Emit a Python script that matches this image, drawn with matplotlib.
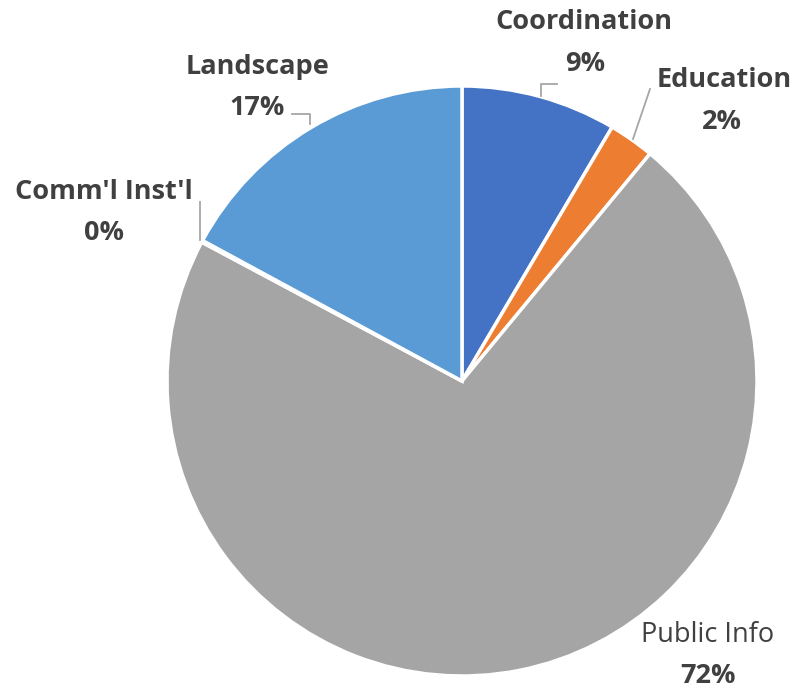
import numpy as np
import matplotlib.pyplot as plt

labels = ["Coordination", "Education", "Public Info", "Comm'l Inst'l", "Landscape"]
values = [8.5, 2.5, 71.8, 0.1, 17.1]
pct_text = ["9%", "2%", "72%", "0%", "17%"]
colors = ["#4472C4", "#ED7D31", "#A5A5A5", "#FFC000", "#5B9BD5"]

W, H = 798, 692
cx, cy, R = 462, 381, 295  # pie centre / radius in pixels


def px(x, y):
    # pixel (from top-left) -> data coords where pie radius is 1
    return (x - cx) / R, (cy - y) / R


fig = plt.figure(figsize=(W / 100, H / 100), dpi=100)
ax = fig.add_axes([0, 0, 1, 1])
ax.pie(values, colors=colors, startangle=90, counterclock=False,
       wedgeprops=dict(edgecolor="white", linewidth=2.5))
ax.set_xlim(-cx / R, (W - cx) / R)
ax.set_ylim(-(H - cy) / R, cy / R)
ax.set_aspect("auto")
ax.axis("off")

# label positions (pixel centres of name / percent), leader lines
name_pos = [(584, 22), (724, 80), (708, 635), (104, 192), (257, 67)]
pct_pos = [(585, 64), (722, 122), (708, 676), (104, 233), (257, 108)]
leaders = [
    [(541, 96), (541, 84), (557, 84)],
    [(633, 139), (650, 89)],
    None,
    [(200, 240), (200, 202)],
    [(292, 114), (310, 114), (310, 124)],
]

tc = "#404040"
fam = ["Open Sans", "DejaVu Sans"]
for i, lab in enumerate(labels):
    w = "normal" if lab == "Public Info" else "bold"
    ax.text(*px(*name_pos[i]), lab, ha="center", va="center", fontsize=19.5,
            color=tc, fontweight=w, family=fam)
    ax.text(*px(*pct_pos[i]), pct_text[i], ha="center", va="center", fontsize=19.5,
            color=tc, fontweight="bold", family=fam)
    if leaders[i]:
        pts = np.array([px(*p) for p in leaders[i]])
        ax.plot(pts[:, 0], pts[:, 1], color="#A6A6A6", lw=1.3)

fig.savefig("out.png", dpi=100)
